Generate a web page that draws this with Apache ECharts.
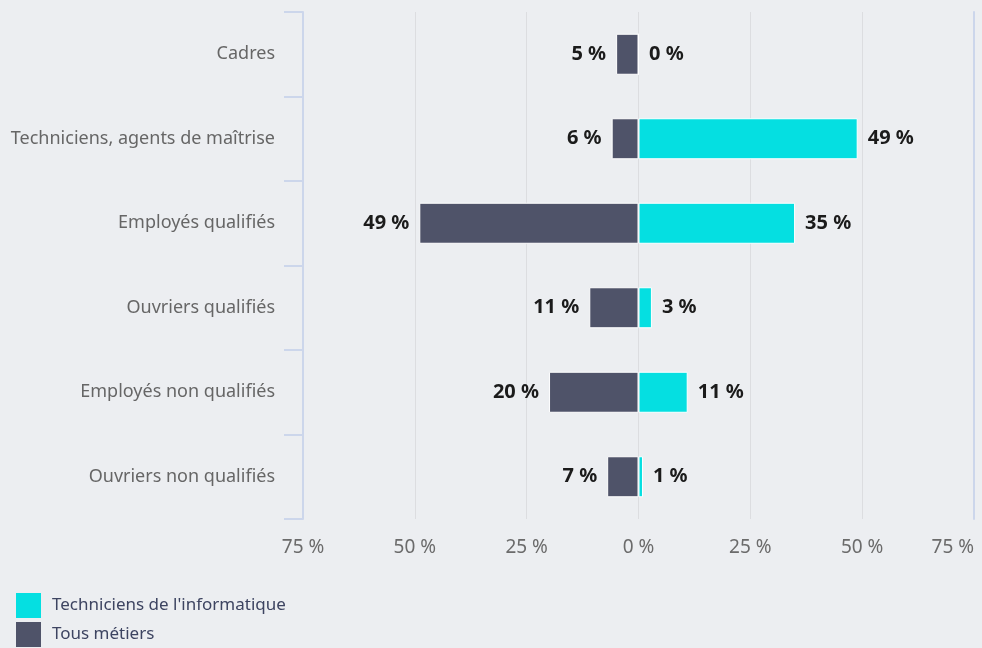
<!DOCTYPE html>
<html>
<head>
<meta charset="utf-8">
<script src="https://cdn.jsdelivr.net/npm/echarts@6/dist/echarts.min.js"></script>
<style>
html,body{margin:0;padding:0;background:#eceef1;}
#chart{width:982px;height:648px;}
</style>
</head>
<body>
<div id="chart"></div>
<script>
const categories = ["Cadres","Techniciens, agents de maîtrise","Employés qualifiés","Ouvriers qualifiés","Employés non qualifiés","Ouvriers non qualifiés"];
const informatique = [0, 49, 35, 3, 11, 1];
const tousMetiers = [5, 6, 49, 11, 20, 7];
const xTicks = [-75, -50, -25, 0, 25, 50, 75];

const FONT = "Noto Sans";
const chart = echarts.init(document.getElementById('chart'));
const labelStyle = {
  show: true,
  distance: 10,
  fontFamily: FONT,
  fontSize: 20,
  fontWeight: 'bold',
  color: '#1b1b1b',
  formatter: p => Math.abs(p.value) + ' %'
};
chart.setOption({
  backgroundColor: '#eceef1',
  animation: false,
  grid: {left: 303, right: 8, top: 12, bottom: 129},
  legend: {
    orient: 'vertical', left: 16, top: 593, padding: 0, itemWidth: 25, itemHeight: 25, itemGap: 4,
    icon: 'rect',
    itemStyle: {borderWidth: 0},
    data: ["Techniciens de l'informatique", 'Tous métiers'],
    textStyle: {fontFamily: FONT, fontSize: 17, color: '#3d4461', padding: [0, 0, 0, 6]}
  },
  xAxis: {
    type: 'value', min: xTicks[0], max: xTicks[xTicks.length-1], interval: 25,
    axisLine: {show: false}, axisTick: {show: false},
    splitLine: {show: true, lineStyle: {color: '#dcdde0', width: 1}},
    axisLabel: {
      margin: 19, fontFamily: FONT, fontSize: 19, color: '#6b6b6b',
      alignMaxLabel: 'right',
      formatter: v => Math.abs(v) + ' %'
    }
  },
  yAxis: [{
    type: 'category', data: categories, inverse: true,
    axisLine: {show: true, onZero: false, lineStyle: {color: '#ccd6eb', width: 2}},
    axisTick: {show: true, inside: false, length: 19, lineStyle: {color: '#ccd6eb', width: 2}},
    axisLabel: {margin: 28, fontFamily: FONT, fontSize: 18, color: '#666666'}
  }, {
    type: 'category', data: categories, inverse: true, position: 'right',
    axisLine: {show: true, onZero: false, lineStyle: {color: '#ccd6eb', width: 2}},
    axisTick: {show: false}, axisLabel: {show: false}
  }],
  series: [{
    name: 'Tous métiers', type: 'bar', barWidth: 41, barGap: '-100%',
    data: tousMetiers.map(v => -v),
    itemStyle: {color: '#4f5369', borderColor: '#ffffff', borderWidth: 1},
    label: Object.assign({position: 'left'}, labelStyle)
  }, {
    name: "Techniciens de l'informatique", type: 'bar', barWidth: 41, barGap: '-100%',
    data: informatique,
    itemStyle: {color: '#05dfe1', borderColor: '#ffffff', borderWidth: 1},
    label: Object.assign({position: 'right'}, labelStyle)
  }]
});
</script>
</body>
</html>
